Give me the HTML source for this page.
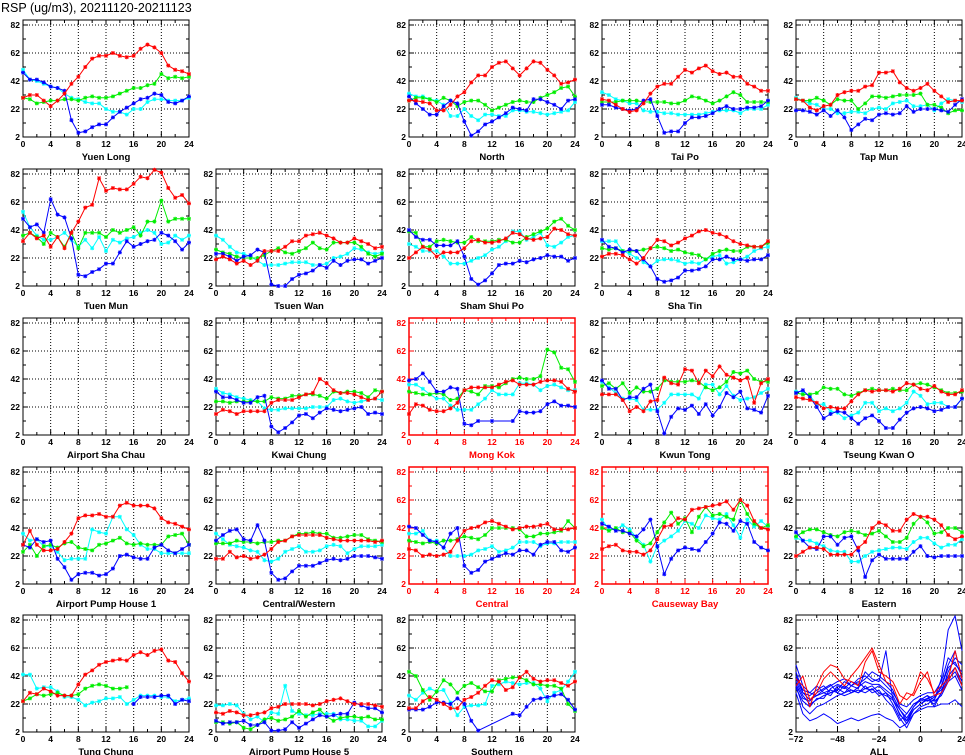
<!DOCTYPE html>
<html><head><meta charset="utf-8"><style>
html,body{margin:0;padding:0;background:#fff;}
svg{display:block;font-family:"Liberation Sans",sans-serif;}
</style></head><body>
<svg id="chart" width="965" height="755" viewBox="0 0 965 755" xmlns="http://www.w3.org/2000/svg">
<text x="1" y="12" font-size="12.5" fill="#000">RSP (ug/m3), 20211120-20211123</text>
</svg>
<script>
const yTicks=[2,22,42,62,82];
const yMinor=[12,32,52,72];
const xTicks=[0,4,8,12,16,20,24];
const allTicks=[-72,-48,-24,0,24];
const hours=[0,1,2,3,4,5,6,7,8,9,10,11,12,13,14,15,16,17,18,19,20,21,22,23,24];
const allX=[-72,-68,-64,-60,-56,-52,-48,-44,-40,-36,-32,-28,-24,-20,-16,-12,-8,-4,0,4,8,12,16,20,24];

const yuenLongR=[30,32,32,28,24,28,33,40,45,52,58,60,60,62,60,59,60,65,68,66,62,53,50,49,47];
const yuenLongG=[30,29,26,27,28,28,29,29,28,30,31,30,30,31,33,35,37,37,39,40,47,44,45,44,45];
const yuenLongC=[50,43,42,40,38,37,33,30,29,27,26,26,22,20,20,18,22,22,27,29,29,28,28,28,30];
const yuenLongB=[48,43,43,41,38,37,35,14,5,6,9,11,11,16,20,23,26,29,30,33,32,27,26,28,31];

const northR=[28,28,27,26,21,21,25,31,34,41,46,46,52,55,56,51,46,51,56,55,50,46,40,41,43];
const northG=[28,30,30,29,27,30,28,24,27,28,28,25,21,23,25,27,28,27,27,30,32,34,37,38,31];
const northC=[33,31,31,29,28,25,17,17,22,17,14,18,18,17,17,21,21,20,20,19,18,19,20,21,27];
const northB=[31,26,22,18,18,24,28,26,13,3,6,11,13,16,19,23,22,21,29,29,27,25,22,28,29];

const taiPoR=[29,28,25,22,20,21,26,33,38,40,40,45,50,48,51,53,49,47,48,45,45,40,38,35,35];
const taiPoG=[27,27,27,28,28,28,27,27,27,27,26,26,28,31,30,28,26,28,31,34,32,27,27,27,27];
const taiPoC=[34,32,29,28,26,26,21,20,20,19,19,18,18,18,18,19,20,21,21,21,19,22,22,22,25];
const taiPoB=[25,25,23,22,21,22,28,29,17,5,6,6,12,16,16,17,19,22,24,22,22,23,23,24,28];

const tapMunR=[29,28,23,21,24,25,32,34,35,35,38,39,48,48,49,41,37,35,37,40,35,31,27,28,28];
const tapMunG=[29,28,28,30,28,25,29,28,28,22,26,31,31,30,31,32,32,32,33,25,25,23,19,21,21];
const tapMunC=[30,28,26,25,22,22,19,19,20,20,19,22,23,22,26,27,28,24,24,25,21,26,29,28,27];
const tapMunB=[21,21,20,18,21,17,21,16,7,11,15,14,18,19,18,19,24,20,22,22,22,21,20,25,29];

const tuenMunR=[34,40,36,38,30,37,29,40,48,58,60,79,70,72,71,71,75,80,79,85,83,72,65,67,61];
const tuenMunG=[38,40,37,32,40,37,30,40,29,40,40,40,37,42,40,42,44,38,48,48,63,48,50,50,50];
const tuenMunC=[55,44,38,35,35,37,40,35,30,35,29,37,27,35,33,36,37,40,42,40,32,33,38,35,38];
const tuenMunB=[50,44,46,40,64,53,51,36,10,9,12,14,18,18,26,34,30,32,34,35,40,38,34,28,33];

const tsuenWanR=[21,23,21,18,20,17,20,27,27,27,30,34,34,38,39,40,38,36,33,33,36,34,32,29,30];
const tsuenWanG=[28,26,25,23,22,22,22,24,27,29,26,25,27,29,33,29,28,33,33,33,33,30,25,23,25];
const tsuenWanC=[38,35,30,26,25,23,20,17,17,17,18,19,19,19,17,17,18,22,23,25,29,28,26,25,26];
const tsuenWanB=[25,25,23,20,23,24,28,26,3,2,2,7,10,11,13,17,15,20,17,20,21,21,18,20,22];

const shamShuiPoR=[22,26,30,28,23,26,26,26,29,34,35,33,33,34,36,40,39,36,35,36,37,43,42,39,38];
const shamShuiPoG=[41,40,30,30,34,35,34,33,33,37,34,34,34,35,35,33,33,37,39,41,43,48,50,45,42];
const shamShuiPoC=[32,30,27,27,27,23,18,18,18,20,22,24,28,30,34,41,41,35,37,40,31,30,33,37,38];
const shamShuiPoB=[42,37,35,35,31,31,31,34,23,7,3,6,11,17,18,18,20,19,21,22,24,23,23,20,22];

const shaTinR=[23,25,25,24,21,18,22,29,35,34,31,33,36,38,41,42,40,39,37,34,32,31,30,30,34];
const shaTinG=[29,28,29,27,27,27,28,29,30,29,27,28,26,25,24,21,25,27,28,27,27,30,30,30,33];
const shaTinC=[34,34,34,27,25,22,19,16,20,21,21,20,18,19,18,21,23,24,18,19,21,23,27,29,30];
const shaTinB=[35,30,29,26,28,27,21,16,7,5,6,8,13,13,14,16,21,21,23,21,21,20,21,21,24];

const kwaiChungR=[17,20,19,17,19,19,19,19,25,27,27,27,29,31,32,42,39,34,32,32,31,29,27,28,33];
const kwaiChungG=[26,26,25,26,26,26,26,26,29,28,28,30,30,31,31,30,28,33,32,33,33,32,29,34,33];
const kwaiChungC=[35,32,31,29,28,27,26,21,20,20,21,21,21,21,22,22,22,27,28,26,25,26,27,28,27];
const kwaiChungB=[33,29,29,27,25,25,29,30,8,4,7,11,16,17,14,18,21,20,19,20,21,22,17,18,17];

const mongKokR=[17,24,23,20,19,19,21,25,34,36,36,36,36,38,40,41,38,38,38,40,41,41,40,35,33];
const mongKokG=[33,32,31,31,32,31,27,28,34,33,31,37,37,36,39,42,43,42,42,44,63,61,50,49,40];
const mongKokC=[38,38,35,31,28,28,23,20,20,20,24,28,34,31,31,31,39,39,38,34,37,38,36,34,34];
const mongKokB=[41,42,46,40,33,33,36,35,10,9,12,null,12,null,null,12,19,18,18,19,24,26,23,23,22];

const kwunTongR=[31,31,31,27,19,22,19,26,27,43,39,38,49,48,39,48,44,51,45,43,41,43,25,39,42];
const kwunTongG=[37,39,35,39,32,36,33,33,35,41,40,40,40,41,40,36,34,36,40,47,46,48,42,40,40];
const kwunTongC=[40,36,32,28,28,27,20,20,20,25,31,31,31,31,28,38,38,31,37,30,27,28,29,32,35];
const kwunTongB=[41,35,35,27,29,29,35,38,19,3,15,21,20,23,17,24,16,22,32,29,33,21,20,18,30];

const tseungKwanOR=[29,28,27,25,21,22,21,21,26,31,34,33,34,34,33,35,39,38,35,34,37,33,31,31,34];
const tseungKwanOG=[32,31,31,32,36,35,35,31,30,32,34,35,34,34,35,34,34,38,39,38,36,34,32,32,33];
const tseungKwanOC=[33,33,30,24,24,19,18,14,16,18,25,25,19,21,19,21,25,33,30,24,25,25,22,22,28];
const tseungKwanOB=[32,34,29,22,14,17,19,18,14,10,14,16,12,7,7,13,18,21,22,21,19,20,22,22,28];

const pumpHouse1R=[30,40,30,26,26,27,32,38,49,51,51,52,50,50,58,60,58,58,58,56,49,46,45,43,41];
const pumpHouse1G=[25,30,22,29,30,28,31,32,28,27,26,30,31,33,35,31,30,31,30,30,30,36,37,38,30];
const pumpHouse1C=[38,33,34,29,29,25,19,20,20,20,41,39,38,50,50,41,37,30,27,27,24,24,24,24,24];
const pumpHouse1B=[30,28,34,32,33,20,14,5,9,10,10,8,9,13,22,23,21,20,20,28,30,26,24,27,30];

const centralWesternR=[20,20,25,21,22,20,21,23,27,32,33,36,37,37,37,37,35,34,33,33,33,33,33,32,33];
const centralWesternG=[31,31,31,33,32,32,31,32,32,33,33,36,38,38,39,38,38,35,35,36,37,37,34,33,32];
const centralWesternC=[38,34,30,29,28,26,25,19,18,20,25,27,29,25,25,26,29,30,29,24,27,29,29,29,30];
const centralWesternB=[33,37,40,41,34,33,44,33,10,5,6,11,15,15,15,17,19,20,19,20,22,22,22,21,20];

const centralR=[27,26,22,23,22,23,25,33,40,42,43,46,47,45,43,41,42,43,43,44,45,41,41,41,42];
const centralG=[33,32,31,32,31,33,33,34,36,35,34,37,42,42,42,42,41,36,36,38,38,39,40,47,42];
const centralC=[38,38,40,33,33,28,22,22,22,23,26,27,29,25,26,28,32,32,32,29,31,31,32,32,32];
const centralB=[43,42,37,33,32,28,38,42,15,10,12,18,20,22,24,23,26,26,23,30,32,32,26,25,28];

const causewayBayR=[27,29,30,26,25,25,23,26,34,43,44,49,48,55,56,57,58,59,61,55,62,58,47,42,41];
const causewayBayG=[42,40,42,39,39,33,29,31,39,46,53,45,49,39,50,57,51,52,50,48,62,52,45,42,44];
const causewayBayC=[48,41,41,44,41,35,30,18,29,33,36,40,47,45,42,51,49,48,52,44,35,48,43,47,43];
const causewayBayB=[45,43,40,40,38,36,41,48,29,9,20,26,28,27,26,32,38,46,45,40,47,45,32,28,26];

const easternR=[22,25,28,28,27,23,23,23,23,28,32,42,46,44,40,40,48,52,50,50,48,44,37,34,36];
const easternG=[36,39,41,41,39,37,36,39,40,39,37,38,40,36,32,32,35,45,50,46,38,39,42,42,39];
const easternC=[35,33,33,31,29,26,25,25,18,18,22,25,26,27,28,28,27,32,35,35,31,28,30,30,34];
const easternB=[39,33,28,27,36,36,30,35,36,26,7,19,23,20,20,20,20,25,29,22,21,22,22,22,22];

const tungChungR=[24,30,29,33,31,28,28,28,36,43,46,50,52,53,54,53,57,59,57,60,61,53,52,44,38];
const tungChungG=[24,26,29,28,29,30,28,28,29,33,35,36,35,33,33,34,null,null,null,null,null,null,null,null,null];
const tungChungC=[43,43,33,34,34,31,27,27,25,21,23,24,26,26,27,22,25,28,28,28,27,27,24,25,26];
const tungChungB=[null,null,null,null,null,null,null,null,null,null,null,null,null,null,null,null,22,27,27,27,28,28,22,25,24];

const pumpHouse5R=[16,15,17,16,14,14,15,16,19,20,22,22,22,22,21,22,24,25,26,24,22,22,22,21,20];
const pumpHouse5G=[9,9,8,9,5,4,7,11,12,10,11,13,17,13,16,18,13,10,12,13,13,12,13,11,11];
const pumpHouse5C=[21,21,22,21,15,11,13,9,16,15,35,17,15,14,14,15,15,15,11,11,10,10,6,6,10];
const pumpHouse5B=[10,8,9,9,10,7,7,9,3,3,4,9,5,8,11,14,13,14,15,15,23,21,19,19,16];

const southernR=[19,19,24,27,25,22,19,19,25,27,30,35,39,38,32,34,41,45,40,38,39,39,37,35,38];
const southernG=[45,42,32,25,31,39,36,30,35,37,34,31,31,39,40,41,41,39,36,36,35,35,33,22,17];
const southernC=[28,25,30,33,31,32,23,14,20,21,21,22,35,36,38,37,36,37,37,33,24,30,32,38,45];
const southernB=[18,18,18,20,23,23,22,26,22,10,3,null,null,null,null,15,14,20,25,26,27,28,29,25,18];

const allBlue1=[45,30,25,28,30,32,30,35,32,30,33,35,30,28,25,15,8,18,22,25,22,30,45,55,50];
const allBlue2=[38,28,22,25,28,30,33,30,35,38,33,32,35,30,22,12,5,15,20,22,25,35,50,60,40];
const allBlue3=[35,20,15,20,22,25,28,30,32,30,35,30,32,25,20,10,15,22,25,28,20,30,40,45,35];
const allBlue4=[50,35,30,28,32,35,38,40,35,33,45,40,38,60,25,18,10,20,25,28,25,40,75,85,60];
const allBlue5=[30,15,10,12,15,12,8,10,12,10,12,14,15,12,10,5,8,15,18,20,20,22,22,25,20];
const allBlue6=[40,30,28,32,35,30,32,38,35,40,42,38,40,35,30,22,20,25,28,30,30,38,55,50,45];
const allBlue7=[42,32,30,35,30,28,35,33,38,36,40,45,42,38,32,20,15,22,24,26,28,32,42,48,38];
const allBlue8=[36,26,24,30,33,36,30,28,30,34,38,36,36,32,28,18,12,20,26,24,27,34,48,52,42];
const allBlue9=[33,24,20,26,26,33,36,34,30,32,30,33,28,30,26,14,10,18,22,26,24,28,38,42,32];
const allRed1=[40,35,20,35,45,50,48,40,38,35,52,60,45,42,38,28,25,30,45,40,30,35,40,60,40];
const allRed2=[35,42,25,30,40,45,40,35,42,48,55,62,50,38,35,22,30,28,38,45,28,30,38,48,35];

const NS="http://www.w3.org/2000/svg";
const svg=document.getElementById('chart');
const COLL=[23,216,409,602,796], ROWB=[137,286,435,584,732], W=166;
const COL={r:'#ff0000',g:'#00ee00',c:'#00ffff',b:'#0000ff'};
function mk(tag,attrs,parent){const e=document.createElementNS(NS,tag);for(const k in attrs)e.setAttribute(k,attrs[k]);(parent||svg).appendChild(e);return e;}

const panels=[
 {name:'Yuen Long',key:'yuen-long',c:0,r:0,d:[yuenLongR,yuenLongG,yuenLongC,yuenLongB]},
 {name:'North',key:'north',c:2,r:0,d:[northR,northG,northC,northB]},
 {name:'Tai Po',key:'tai-po',c:3,r:0,d:[taiPoR,taiPoG,taiPoC,taiPoB]},
 {name:'Tap Mun',key:'tap-mun',c:4,r:0,d:[tapMunR,tapMunG,tapMunC,tapMunB]},
 {name:'Tuen Mun',key:'tuen-mun',c:0,r:1,d:[tuenMunR,tuenMunG,tuenMunC,tuenMunB]},
 {name:'Tsuen Wan',key:'tsuen-wan',c:1,r:1,d:[tsuenWanR,tsuenWanG,tsuenWanC,tsuenWanB]},
 {name:'Sham Shui Po',key:'sham-shui-po',c:2,r:1,d:[shamShuiPoR,shamShuiPoG,shamShuiPoC,shamShuiPoB]},
 {name:'Sha Tin',key:'sha-tin',c:3,r:1,d:[shaTinR,shaTinG,shaTinC,shaTinB]},
 {name:'Airport Sha Chau',key:'airport-sha-chau',c:0,r:2,d:null},
 {name:'Kwai Chung',key:'kwai-chung',c:1,r:2,d:[kwaiChungR,kwaiChungG,kwaiChungC,kwaiChungB]},
 {name:'Mong Kok',key:'mong-kok',c:2,r:2,red:true,d:[mongKokR,mongKokG,mongKokC,mongKokB]},
 {name:'Kwun Tong',key:'kwun-tong',c:3,r:2,d:[kwunTongR,kwunTongG,kwunTongC,kwunTongB]},
 {name:'Tseung Kwan O',key:'tseung-kwan-o',c:4,r:2,d:[tseungKwanOR,tseungKwanOG,tseungKwanOC,tseungKwanOB]},
 {name:'Airport Pump House 1',key:'airport-pump-house-1',c:0,r:3,d:[pumpHouse1R,pumpHouse1G,pumpHouse1C,pumpHouse1B]},
 {name:'Central/Western',key:'central-western',c:1,r:3,d:[centralWesternR,centralWesternG,centralWesternC,centralWesternB]},
 {name:'Central',key:'central',c:2,r:3,red:true,d:[centralR,centralG,centralC,centralB]},
 {name:'Causeway Bay',key:'causeway-bay',c:3,r:3,red:true,d:[causewayBayR,causewayBayG,causewayBayC,causewayBayB]},
 {name:'Eastern',key:'eastern',c:4,r:3,d:[easternR,easternG,easternC,easternB]},
 {name:'Tung Chung',key:'tung-chung',c:0,r:4,d:[tungChungR,tungChungG,tungChungC,tungChungB]},
 {name:'Airport Pump House 5',key:'airport-pump-house-5',c:1,r:4,d:[pumpHouse5R,pumpHouse5G,pumpHouse5C,pumpHouse5B]},
 {name:'Southern',key:'southern',c:2,r:4,d:[southernR,southernG,southernC,southernB]},
 {name:'ALL',key:'all',c:4,r:4,all:true}
];

function drawFrame(p,g,xs,ticks,minorX){
  const L=COLL[p.c],B=ROWB[p.r],T=B-117,fc=p.red?'#ff0000':'#000';
  const ys=v=>B-(v-2)*1.4;
  ticks.forEach(t=>{const x=xs(t);if(x>L+1&&x<L+W-1)mk('line',{x1:x,y1:T,x2:x,y2:B,stroke:'#000','stroke-width':1,'stroke-dasharray':'1,2'},g);});
  yTicks.forEach(t=>{const y=ys(t);if(y<B-1)mk('line',{x1:L,y1:y,x2:L+W,y2:y,stroke:'#000','stroke-width':1,'stroke-dasharray':'1,2'},g);});
  yTicks.forEach(t=>{const y=ys(t);mk('line',{x1:L,y1:y,x2:L+5,y2:y,stroke:fc},g);mk('line',{x1:L+W-5,y1:y,x2:L+W,y2:y,stroke:fc},g);
    const tx=mk('text',{x:L-3,y:y+3,'font-size':8.5,'font-weight':'bold','text-anchor':'end',fill:fc},g);tx.textContent=t;
    
    });
  yMinor.forEach(t=>{const y=ys(t);mk('line',{x1:L,y1:y,x2:L+3,y2:y,stroke:fc},g);mk('line',{x1:L+W-3,y1:y,x2:L+W,y2:y,stroke:fc},g);});
  ticks.forEach(t=>{const x=xs(t);mk('line',{x1:x,y1:B,x2:x,y2:B-5,stroke:fc},g);mk('line',{x1:x,y1:T,x2:x,y2:T+5,stroke:fc},g);
    const tx=mk('text',{x:x,y:B+10,'font-size':8.5,'font-weight':'bold','text-anchor':'middle',fill:fc},g);tx.textContent=(t<0?'\u2212'+(-t):t);
    
    });
  minorX.forEach(t=>{const x=xs(t);mk('line',{x1:x,y1:B,x2:x,y2:B-3,stroke:fc},g);mk('line',{x1:x,y1:T,x2:x,y2:T+3,stroke:fc},g);});
  const fr=mk('rect',{x:L,y:T,width:W,height:B-T,fill:'none',stroke:fc,'stroke-width':p.red?1.5:1},g);
  
  
  const tt=mk('text',{x:L+W/2,y:B+23,'font-size':9.5,'font-weight':'bold','text-anchor':'middle',fill:fc},g);
  tt.textContent=p.name;
  
  
  return ys;
}

function drawLine(g,xv,yv,xs,ys,color,markers,sw){
  let d='',pen=false,md='';
  for(let i=0;i<yv.length;i++){
    if(yv[i]==null)continue;
    const x=xs(xv[i]),y=ys(yv[i]);
    d+=(pen?'L':'M')+x.toFixed(1)+' '+y.toFixed(1);pen=true;
    if(markers)md+=`M${x-2} ${y}h4M${x} ${y-2}v4M${x-1.6} ${y-1.6}l3.2 3.2M${x-1.6} ${y+1.6}l3.2 -3.2`;
  }
  const pl=mk('path',{d:d,fill:'none',stroke:color,'stroke-width':sw,'stroke-linejoin':'round'},g);
  
  
  if(markers){const m=mk('path',{d:md,fill:'none',stroke:color,'stroke-width':0.9},g);
    
    }
}

panels.forEach(p=>{
  const g=mk('g',{});
  
  
  const L=COLL[p.c];
  if(p.all){
    const xs=v=>L+(v+72)*W/96;
    const ys=drawFrame(p,g,xs,allTicks,[-60,-36,-12,12]);
    [allBlue1,allBlue2,allBlue3,allBlue4,allBlue5,allBlue6,allBlue7,allBlue8,allBlue9].forEach(s=>drawLine(g,allX,s,xs,ys,COL.b,false,1));
    [allRed1,allRed2].forEach(s=>drawLine(g,allX,s,xs,ys,COL.r,false,1));
    return;
  }
  const xs=h=>L+h*W/24;
  const ys=drawFrame(p,g,xs,xTicks,[2,6,10,14,18,22]);
  if(!p.d)return;
  const [R,G,C,Bl]=p.d;
  drawLine(g,hours,C,xs,ys,COL.c,true,1);
  drawLine(g,hours,G,xs,ys,COL.g,true,1);
  drawLine(g,hours,Bl,xs,ys,COL.b,true,1);
  drawLine(g,hours,R,xs,ys,COL.r,true,1);
});
</script>
</body></html>
